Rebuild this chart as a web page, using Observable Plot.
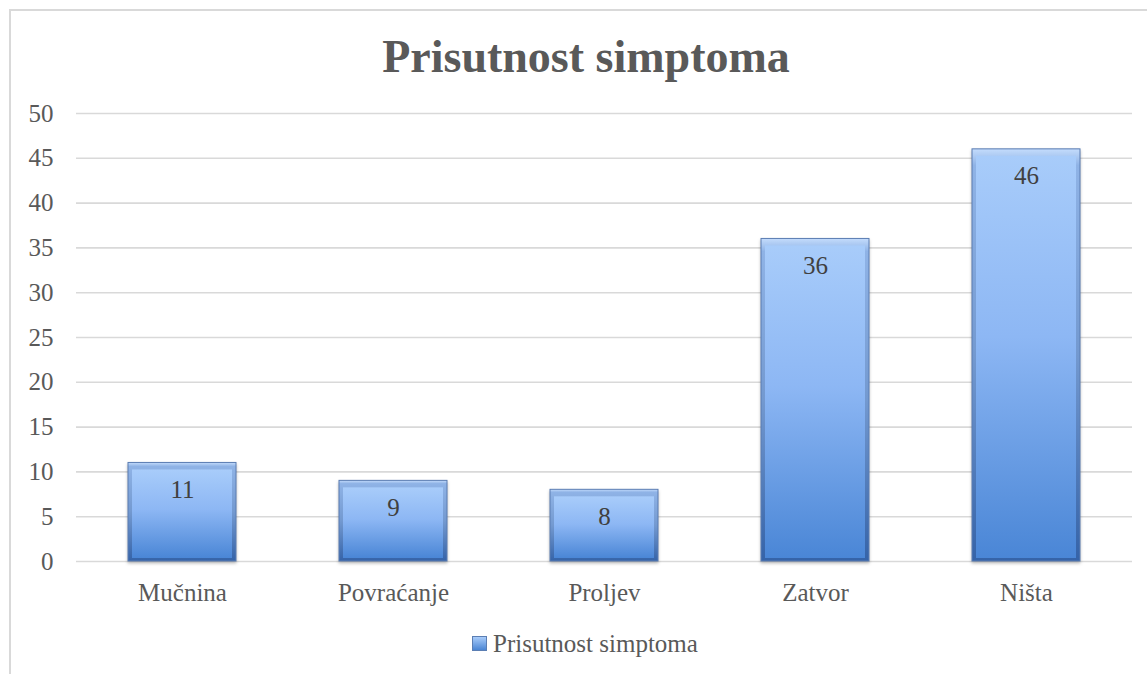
<!DOCTYPE html>
<html>
<head>
<meta charset="utf-8">
<script src="https://cdn.jsdelivr.net/npm/d3@7"></script>
<script src="https://cdn.jsdelivr.net/npm/@observablehq/plot@0.6"></script>
<style>
  html, body { margin: 0; padding: 0; background: #fff; }
  #wrap { position: relative; width: 1147px; height: 674px; overflow: hidden; font-family: "Liberation Serif", "DejaVu Serif", serif; }
  #frame { position: absolute; left: 9px; top: 9px; width: 1160px; height: 700px; border: 2px solid #d9d9d9; box-sizing: border-box; }
  #title { position: absolute; left: 0; width: 1172px; top: 34px; text-align: center; font-size: 46px; line-height: 46px; font-weight: bold; color: #595959; }
  #chart { position: absolute; left: 0; top: 90px; }
  #legend { position: absolute; left: 472px; top: 631px; display: flex; align-items: center; font-size: 25px; line-height: 25px; color: #595959; }
  #legend .sw { width: 15px; height: 15px; margin-right: 6px; background: linear-gradient(#a8ccfa, #4a85d4); border: 1px solid #5b7eb3; box-sizing: border-box; }
</style>
</head>
<body>
<div id="wrap">
  <div id="frame"></div>
  <div id="title">Prisutnost simptoma</div>
  <div id="chart"></div>
  <div id="legend"><div class="sw"></div><span>Prisutnost simptoma</span></div>
</div>
<script>
const categories = ["Mučnina", "Povraćanje", "Proljev", "Zatvor", "Ništa"];
const values = [11, 9, 8, 36, 46];
const yTicks = [0, 5, 10, 15, 20, 25, 30, 35, 40, 45, 50];
const seriesName = "Prisutnost simptoma";

const data = categories.map((c, i) => ({category: c, value: values[i]}));

const chart = Plot.plot({
  width: 1147,
  height: 521,
  marginTop: 23,
  marginBottom: 50,
  marginLeft: 76,
  marginRight: 15,
  style: {fontFamily: "'Liberation Serif', 'DejaVu Serif', serif", fontSize: "25px", color: "#595959", background: "transparent"},
  x: {domain: categories, paddingInner: 0.49, paddingOuter: 0.245, label: null, tickSize: 0, tickPadding: 22},
  y: {domain: [0, 50], ticks: yTicks, label: null, tickSize: 0, tickPadding: 23},
  marks: [
    Plot.ruleY(yTicks, {stroke: "#d9d9d9", strokeWidth: 1.6}),
    Plot.barY(data, {x: "category", y: "value", fill: "url(#barOuter)", stroke: "#5a7cb2", strokeWidth: 1}),
    Plot.barY(data, {x: "category", y: "value", fill: "url(#barInner)", insetLeft: 4, insetRight: 4, insetTop: 7, insetBottom: 3}),
    Plot.text(data, {x: "category", y: "value", text: d => String(d.value), dy: 27, fill: "#404040", fontSize: 25})
  ]
});

const svg = d3.select(chart);
const defs = svg.insert("defs", ":first-child");
const g1 = defs.append("linearGradient").attr("id", "barOuter").attr("x1", 0).attr("y1", 0).attr("x2", 0).attr("y2", 1);
g1.append("stop").attr("offset", "0%").attr("stop-color", "#c4dcfc");
g1.append("stop").attr("offset", "4%").attr("stop-color", "#8fb3e6");
g1.append("stop").attr("offset", "50%").attr("stop-color", "#7399d0");
g1.append("stop").attr("offset", "100%").attr("stop-color", "#3563a8");
const g2 = defs.append("linearGradient").attr("id", "barInner").attr("x1", 0).attr("y1", 0).attr("x2", 0).attr("y2", 1);
g2.append("stop").attr("offset", "0%").attr("stop-color", "#a8ccfa");
g2.append("stop").attr("offset", "45%").attr("stop-color", "#8db7f4");
g2.append("stop").attr("offset", "100%").attr("stop-color", "#4a86d6");
svg.selectAll("g[aria-label='bar']").filter((d, i) => i === 0).style("filter", "drop-shadow(0px 2px 1.5px rgba(0,0,0,0.25))");
svg.selectAll("g[aria-label='x-axis tick label'] text, g[aria-label='y-axis tick label'] text").attr("fill", "#595959");

document.getElementById("chart").appendChild(chart);
</script>
</body>
</html>
